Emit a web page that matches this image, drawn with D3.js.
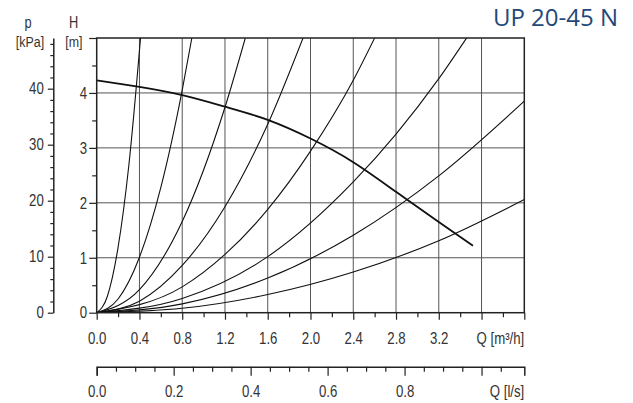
<!DOCTYPE html>
<html>
<head>
<meta charset="utf-8">
<script src="https://cdn.jsdelivr.net/npm/d3@7"></script>
<style>
body{margin:0;background:#fff;}
svg{display:block;}
.axis text,.unit{font-family:"Liberation Sans",Arial,sans-serif;font-size:16.5px;fill:#333;}
</style>
</head>
<body>
<svg></svg>
<script>

// pump curve, Q in m3/h, H in m
var pumpQ=[0,0.4,0.8,1.2,1.6,2.0,2.4,2.8,3.2,3.52]
var pumpH=[4.23,4.11,3.96,3.75,3.51,3.17,2.74,2.2,1.65,1.22]

// system curves [Q, H], steepest first
var sys1=[[0,0],[0.1,0.30],[0.2,1.19],[0.3,2.67],[0.41,5.0]]
var sys2=[[0,0],[0.2,0.25],[0.4,1.01],[0.6,2.28],[0.8,4.05],[0.89,5.0]]
var sys3=[[0,0],[0.4,0.42],[0.8,1.66],[1.2,3.74],[1.39,5.0]]
var sys4=[[0,0],[0.4,0.21],[0.8,0.86],[1.2,1.93],[1.6,3.43],[1.93,5.0]]
var sys5=[[0,0],[0.8,0.47],[1.2,1.06],[1.6,1.88],[2.0,2.94],[2.4,4.23],[2.6,5.0]]
var sys6=[[0,0],[0.8,0.26],[1.6,1.02],[2.4,2.38],[2.8,3.25],[3.2,4.26],[3.46,5.0]]
var sys7=[[0,0],[0.8,0.16],[1.6,0.63],[2.4,1.41],[3.2,2.49],[4.0,3.85]]
var sys8=[[0,0],[0.8,0.08],[1.6,0.33],[2.4,0.74],[3.2,1.31],[4.0,2.06]]
var systems=[sys1,sys2,sys3,sys4,sys5,sys6,sys7,sys8]

// ticks
var qTicks=[0,0.4,0.8,1.2,1.6,2.0,2.4,2.8,3.2,3.6,4.0]
var qLabels=["0.0","0.4","0.8","1.2","1.6","2.0","2.4","2.8","3.2","",""]
var qMinor=[0.2,0.6,1.0,1.4,1.8,2.2,2.6,3.0,3.4,3.8]
var lsTicks=[0,0.2,0.4,0.6,0.8,1.0]
var lsLabels=["0.0","0.2","0.4","0.6","0.8",""]
var lsMinor=[0.05,0.1,0.15,0.25,0.3,0.35,0.45,0.5,0.55,0.65,0.7,0.75,0.85,0.9,0.95,1.05]
var hTicks=[0,1,2,3,4,5]
var hLabels=["0","1","2","3","4",""]
var hMinor=[0.5,1.5,2.5,3.5,4.5]
var pTicks=[0,10,20,30,40]
var pMinor=[2,4,6,8,12,14,16,18,22,24,26,28,32,34,36,38,42,44,46,48]

var screen={width:633,height:403}
var plot={left:96.7,right:524.3,top:38,bottom:312.7}
var squeeze=0.8

var svg=d3.select("svg")
    .attr("width",screen.width)
    .attr("height",screen.height)

var xScale=d3.scaleLinear().domain([0,4]).range([plot.left,plot.right])
var yScale=d3.scaleLinear().domain([0,5]).range([plot.bottom,plot.top])
var pScale=d3.scaleLinear().domain([0,5*9.81]).range([plot.bottom,plot.top])
var lsScale=d3.scaleLinear().domain([0,4/3.6]).range([plot.left,plot.right])

// condensed look: squeeze text horizontally
var narrow=function(sel)
{
    sel.each(function(){
        var t=d3.select(this)
        var x=+t.attr("x")||0
        t.attr("x",x/squeeze).attr("transform","scale("+squeeze+",1)")
    })
}

// grid
var grid=svg.append("g").attr("stroke","#555").attr("stroke-width",1)
grid.selectAll("line.v")
    .data(qTicks.slice(1,-1))
    .enter().append("line")
    .attr("class","v")
    .attr("x1",function(d){return xScale(d)})
    .attr("x2",function(d){return xScale(d)})
    .attr("y1",plot.top).attr("y2",plot.bottom)
grid.selectAll("line.h")
    .data(hTicks.slice(1,-1))
    .enter().append("line")
    .attr("class","h")
    .attr("x1",plot.left).attr("x2",plot.right)
    .attr("y1",function(d){return yScale(d)})
    .attr("y2",function(d){return yScale(d)})

// curves
svg.append("clipPath").attr("id","clip")
    .append("rect")
    .attr("x",plot.left).attr("y",plot.top)
    .attr("width",plot.right-plot.left).attr("height",plot.bottom-plot.top)

var sysLine=d3.line()
    .x(function(d){return xScale(d[0])})
    .y(function(d){return yScale(d[1])})
    .curve(d3.curveMonotoneX)

svg.append("g")
    .attr("clip-path","url(#clip)")
    .attr("fill","none")
    .attr("stroke","#111")
    .attr("stroke-width",1.1)
    .selectAll("path")
    .data(systems)
    .enter().append("path")
    .attr("d",sysLine)

var pumpLine=d3.line()
    .x(function(d,i){return xScale(pumpQ[i])})
    .y(function(d){return yScale(d)})
    .curve(d3.curveNatural)

svg.append("path")
    .datum(pumpH)
    .attr("fill","none")
    .attr("stroke","#111")
    .attr("stroke-width",1.8)
    .attr("d",pumpLine)

// frame
svg.append("rect")
    .attr("x",plot.left).attr("y",plot.top)
    .attr("width",plot.right-plot.left).attr("height",plot.bottom-plot.top)
    .attr("fill","none").attr("stroke","#222").attr("stroke-width",1.5)

var styleAxis=function(g)
{
    g.classed("axis",true)
    g.selectAll("line").attr("stroke","#222").attr("stroke-width",1.2)
    g.selectAll("path").attr("stroke","#222").attr("stroke-width",1.5)
    g.selectAll("text").attr("font-size",null).attr("font-family",null).call(narrow)
}

// Q m3/h axis
svg.append("g")
    .attr("transform","translate(0,"+plot.bottom+")")
    .call(d3.axisBottom(xScale).tickValues(qTicks).tickSize(7).tickSizeOuter(0).tickPadding(13)
        .tickFormat(function(d,i){return qLabels[i]}))
    .call(styleAxis)
    .call(function(g){g.select(".domain").remove()})
svg.append("g")
    .attr("transform","translate(0,"+plot.bottom+")")
    .call(d3.axisBottom(xScale).tickValues(qMinor).tickSize(4.5).tickFormat(""))
    .call(styleAxis)
    .call(function(g){g.select(".domain").remove()})

// Q l/s axis
var lsY=366.7
svg.append("g")
    .attr("transform","translate(0,"+lsY+")")
    .call(d3.axisBottom(lsScale).tickValues(lsTicks).tickSize(9).tickSizeOuter(9).tickPadding(10)
        .tickFormat(function(d,i){return lsLabels[i]}))
    .call(styleAxis)
svg.append("g")
    .attr("transform","translate(0,"+lsY+")")
    .call(d3.axisBottom(lsScale).tickValues(lsMinor).tickSize(5).tickFormat(""))
    .call(styleAxis)
    .call(function(g){g.select(".domain").remove()})

// H axis
svg.append("g")
    .attr("transform","translate("+plot.left+",0)")
    .call(d3.axisLeft(yScale).tickValues(hTicks).tickSize(7.5).tickPadding(2)
        .tickFormat(function(d,i){return hLabels[i]}))
    .call(styleAxis)
    .call(function(g){g.select(".domain").remove()})
svg.append("g")
    .attr("transform","translate("+plot.left+",0)")
    .call(d3.axisLeft(yScale).tickValues(hMinor).tickSize(4.5).tickFormat(""))
    .call(styleAxis)
    .call(function(g){g.select(".domain").remove()})

// p axis
var pX=53.3
svg.append("g")
    .attr("transform","translate("+pX+",0)")
    .call(d3.axisLeft(pScale).tickValues(pTicks).tickSize(5.5).tickSizeOuter(0).tickPadding(4).tickFormat(d3.format("d")))
    .call(styleAxis)
svg.append("g")
    .attr("transform","translate("+pX+",0)")
    .call(d3.axisLeft(pScale).tickValues(pMinor).tickSize(3).tickFormat(""))
    .call(styleAxis)
    .call(function(g){g.select(".domain").remove()})

// unit labels
var unit=function(txt,x,y,size,anchor)
{
    svg.append("text").attr("class","unit")
        .attr("x",x).attr("y",y)
        .style("font-size",size+"px")
        .attr("text-anchor",anchor)
        .text(txt)
        .call(narrow)
}
unit("p",28,28.3,16,"middle")
unit("[kPa]",30,47.5,15.5,"middle")
unit("H",73.5,28.3,16,"middle")
unit("[m]",73.8,47.5,15.5,"middle")
unit("Q [m³/h]",524.3,344.5,16.5,"end")
unit("Q [l/s]",524.3,397,16.5,"end")

svg.append("text")
    .attr("x",618).attr("y",26)
    .attr("text-anchor","end")
    .attr("font-family","'Open Sans',sans-serif")
    .attr("font-size",24)
    .attr("fill","#22487a")
    .text("UP 20-45 N")

</script>
</body>
</html>
